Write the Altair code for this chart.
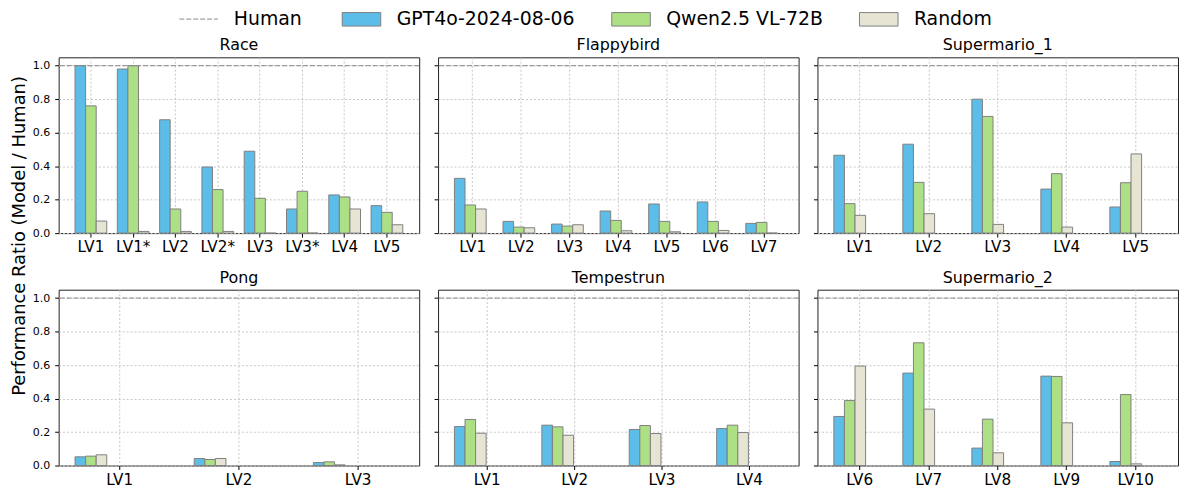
import altair as alt
import pandas as pd

models = ["GPT4o-2024-08-06", "Qwen2.5 VL-72B", "Random"]
colors = ["#5BBDE8", "#ADDF84", "#E6E4D3"]

race_levels = ["LV1", "LV1*", "LV2", "LV2*", "LV3", "LV3*", "LV4", "LV5"]
race_gpt = [1.0, 0.98, 0.677, 0.395, 0.489, 0.144, 0.228, 0.164]
race_qwen = [0.76, 1.0, 0.144, 0.26, 0.208, 0.25, 0.216, 0.124]
race_rand = [0.072, 0.01, 0.01, 0.01, 0.0, 0.0, 0.144, 0.05]

flappy_levels = ["LV1", "LV2", "LV3", "LV4", "LV5", "LV6", "LV7"]
flappy_gpt = [0.327, 0.07, 0.054, 0.132, 0.174, 0.186, 0.058]
flappy_qwen = [0.168, 0.036, 0.042, 0.076, 0.07, 0.07, 0.064]
flappy_rand = [0.144, 0.032, 0.05, 0.014, 0.008, 0.016, 0.0]

sm1_levels = ["LV1", "LV2", "LV3", "LV4", "LV5"]
sm1_gpt = [0.465, 0.531, 0.80, 0.263, 0.156]
sm1_qwen = [0.176, 0.303, 0.697, 0.355, 0.301]
sm1_rand = [0.106, 0.116, 0.052, 0.036, 0.473]

pong_levels = ["LV1", "LV2", "LV3"]
pong_gpt = [0.052, 0.042, 0.018]
pong_qwen = [0.056, 0.036, 0.022]
pong_rand = [0.064, 0.042, 0.004]

tempest_levels = ["LV1", "LV2", "LV3", "LV4"]
tempest_gpt = [0.233, 0.241, 0.215, 0.221]
tempest_qwen = [0.275, 0.231, 0.239, 0.241]
tempest_rand = [0.193, 0.181, 0.191, 0.197]

sm2_levels = ["LV6", "LV7", "LV8", "LV9", "LV10"]
sm2_gpt = [0.293, 0.552, 0.104, 0.534, 0.024]
sm2_qwen = [0.388, 0.733, 0.277, 0.532, 0.424]
sm2_rand = [0.594, 0.337, 0.076, 0.255, 0.01]

human_level = 1.0
y_ticks = [0.0, 0.2, 0.4, 0.6, 0.8, 1.0]

panels = [
    ("Race", race_levels, race_gpt, race_qwen, race_rand),
    ("Flappybird", flappy_levels, flappy_gpt, flappy_qwen, flappy_rand),
    ("Supermario_1", sm1_levels, sm1_gpt, sm1_qwen, sm1_rand),
    ("Pong", pong_levels, pong_gpt, pong_qwen, pong_rand),
    ("Tempestrun", tempest_levels, tempest_gpt, tempest_qwen, tempest_rand),
    ("Supermario_2", sm2_levels, sm2_gpt, sm2_qwen, sm2_rand),
]

W, H = 363, 177
FONT = "DejaVu Sans"
LEG_FS = 19
BOX = "M-3.88,-1.36H3.88V1.36H-3.88Z"
LINE = "M-3.88,0H3.88"


def y_axis(left):
    return alt.Axis(values=y_ticks, format=".1f", labels=left, labelFontSize=11.1,
                    labelFont=FONT, labelColor="#000", tickSize=4, tickColor="#000",
                    grid=True, gridDash=[2, 2], gridColor="#c8c8c8", domain=False,
                    labelPadding=5, labelOverlap=False)


def make_panel(idx, name, levels, gpt, qwen, rnd):
    rows = []
    for lv, a, b, c in zip(levels, gpt, qwen, rnd):
        rows.append({"level": lv, "model": models[0], "value": a})
        rows.append({"level": lv, "model": models[1], "value": b})
        rows.append({"level": lv, "model": models[2], "value": c})
    df = pd.DataFrame(rows)
    n = len(levels)
    po = 0.05 * (n - 0.25)
    left = idx % 3 == 0
    yscale = alt.Scale(domain=[0, 1.05], nice=False, zero=True)
    bars = alt.Chart(df).mark_bar(stroke="#808080", strokeWidth=1).encode(
        x=alt.X("level:N", sort=levels, title=None,
                scale=alt.Scale(paddingInner=0.25, paddingOuter=po),
                axis=alt.Axis(labelAngle=0, labelFontSize=15.3, labelFont=FONT,
                              labelColor="#000", tickSize=4, tickColor="#000",
                              grid=True, gridDash=[2, 2], gridColor="#c8c8c8",
                              domain=False, bandPosition=0.5, labelPadding=3)),
        xOffset=alt.XOffset("model:N", sort=models,
                            scale=alt.Scale(paddingInner=0, paddingOuter=0)),
        y=alt.Y("value:Q", title=None, scale=yscale, axis=y_axis(left)),
        color=alt.Color("model:N", title=None,
                        scale=alt.Scale(domain=models, range=colors),
                        legend=alt.Legend(orient="none", direction="horizontal",
                                          legendX=295.4, legendY=-48,
                                          symbolType=BOX,
                                          symbolSize=100, symbolStrokeColor="#808080",
                                          symbolStrokeWidth=1, symbolOpacity=1,
                                          labelFontSize=LEG_FS, labelFont=FONT,
                                          labelColor="#000", labelLimit=0,
                                          columnPadding=34.4,
                                          labelOffset=25.9)),
    )
    human_df = pd.DataFrame({"series": ["Human"], "y": [human_level]})
    rule = alt.Chart(human_df).mark_rule(color="#888888", strokeWidth=1).encode(
        y=alt.Y("y:Q", title=None, scale=yscale, axis=y_axis(left)),
        strokeDash=alt.StrokeDash("series:N", title=None,
                                  scale=alt.Scale(domain=["Human"], range=[[5, 2]]),
                                  legend=alt.Legend(orient="none", direction="horizontal",
                                                    legendX=131.4, legendY=-48,
                                                    symbolType=LINE, symbolSize=100,
                                                    symbolStrokeColor="#888888",
                                                    symbolFillColor="transparent",
                                                    symbolStrokeWidth=1,
                                                    labelFontSize=LEG_FS, labelFont=FONT,
                                                    labelColor="#000", labelLimit=0,
                                                    labelOffset=25.9)),
    )
    return alt.layer(bars, rule).properties(
        width=W, height=H,
        title=alt.TitleParams(name, fontSize=16, fontWeight="normal", font=FONT,
                              color="#000", offset=4),
    )


charts = [make_panel(i, *p) for i, p in enumerate(panels)]
row1 = alt.hconcat(*charts[:3], spacing=13).resolve_scale(x="independent")
row2 = alt.hconcat(*charts[3:], spacing=13).resolve_scale(x="independent")
chart = alt.vconcat(row1, row2, spacing=13).resolve_scale(
    x="independent", color="shared", strokeDash="shared"
).properties(
    padding={"left": 2, "top": 0, "right": 0, "bottom": 0},
    title=alt.TitleParams("Performance Ratio (Model / Human)", orient="left",
                          anchor="middle", fontSize=18, fontWeight="normal",
                          font=FONT, color="#000", offset=3, dx=13),
).configure_view(stroke="#222222", strokeWidth=1).configure_legend(
    padding=0
)

chart.save("out.html", embed_options={"renderer": "svg", "actions": False})
